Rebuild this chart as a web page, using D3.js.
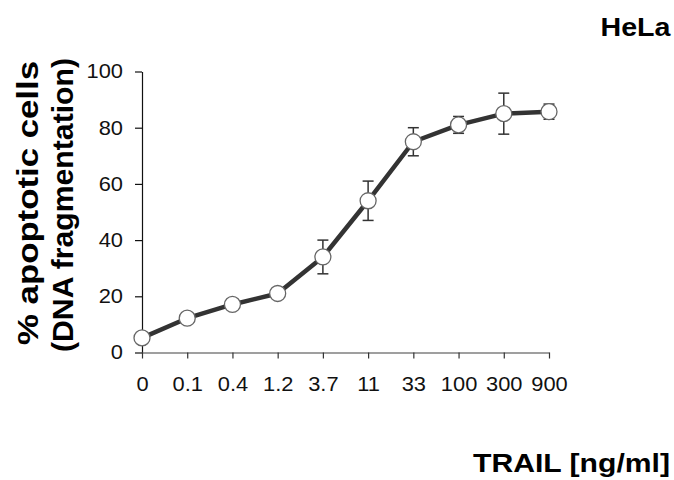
<!DOCTYPE html>
<html>
<head>
<meta charset="utf-8">
<script src="https://cdn.jsdelivr.net/npm/d3@7"></script>
<style>
  body { margin: 0; background: #fff; }
  svg { display: block; font-family: "Liberation Sans", Arial, sans-serif; }
</style>
</head>
<body>
<div id="chart"></div>
<script>
/////////////////////Datos///////////////////////////////////////////////////////
var doses = ["0", "0.1", "0.4", "1.2", "3.7", "11", "33", "100", "300", "900"];
var apoptosis = [5.2, 12.2, 17.1, 21, 34, 54, 75, 81, 85, 85.7];
var errors = [1, 1, 1, 1.8, 6, 7, 5, 3, 7.3, 2.7];
var yTicks = [0, 20, 40, 60, 80, 100];

var data = doses.map(function(d, i) {
  return { dose: d, value: apoptosis[i], err: errors[i] };
});

/////////////////////Tamaño/////////////////////////////////////////////////////
var width = 674,
    height = 480;

var svg = d3.select("#chart")
  .append("svg")
    .attr("width", width)
    .attr("height", height);

var x = d3.scalePoint()
  .domain(doses)
  .range([142, 549]);

var y = d3.scaleLinear()
  .domain([0, 100])
  .range([352.5, 71.5]);

// estira el texto a lo ancho como en la imagen
function stretch(sel, k) {
  sel.each(function() {
    var len = this.getComputedTextLength();
    d3.select(this)
      .attr("textLength", len * k)
      .attr("lengthAdjust", "spacingAndGlyphs");
  });
}

/////////////////////Ejes///////////////////////////////////////////////////////
var yAxis = svg.append("g")
  .attr("transform", "translate(142,0)")
  .call(d3.axisLeft(y).tickValues(yTicks).tickSize(7).tickSizeOuter(0).tickPadding(12));
yAxis.select(".domain").attr("stroke", "#111").attr("stroke-width", 1.2);
yAxis.selectAll(".tick line").attr("stroke", "#111").attr("stroke-width", 1.2);
yAxis.selectAll(".tick text")
  .attr("fill", "#111")
  .attr("font-size", "21px")
  .attr("dy", "0.3em")
  .call(stretch, 1.04);

var xAxis = svg.append("g")
  .attr("transform", "translate(0,352.5)")
  .call(d3.axisBottom(x).tickSize(6).tickSizeOuter(0).tickPadding(18));
xAxis.select(".domain").attr("stroke", "#7f7f7f").attr("stroke-width", 1.5);
xAxis.selectAll(".tick line").attr("stroke", "#333").attr("stroke-width", 1.2);
xAxis.selectAll(".tick text")
  .attr("fill", "#111")
  .attr("font-size", "21px")
  .call(stretch, 1.04);

/////////////////////Barras de error///////////////////////////////////////////
var bars = svg.append("g")
  .attr("stroke", "#333")
  .attr("stroke-width", 1.5)
  .selectAll("g")
  .data(data)
  .enter()
    .append("g");

bars.append("line")
  .attr("x1", function(d) { return x(d.dose); })
  .attr("x2", function(d) { return x(d.dose); })
  .attr("y1", function(d) { return y(d.value + d.err); })
  .attr("y2", function(d) { return y(d.value - d.err); });

bars.append("line")
  .attr("x1", function(d) { return x(d.dose) - 5.5; })
  .attr("x2", function(d) { return x(d.dose) + 5.5; })
  .attr("y1", function(d) { return y(d.value + d.err); })
  .attr("y2", function(d) { return y(d.value + d.err); });

bars.append("line")
  .attr("x1", function(d) { return x(d.dose) - 5.5; })
  .attr("x2", function(d) { return x(d.dose) + 5.5; })
  .attr("y1", function(d) { return y(d.value - d.err); })
  .attr("y2", function(d) { return y(d.value - d.err); });

/////////////////////Linea y puntos//////////////////////////////////////////
var line = d3.line()
  .x(function(d) { return x(d.dose); })
  .y(function(d) { return y(d.value); });

svg.append("path")
  .datum(data)
  .attr("d", line)
  .attr("fill", "none")
  .attr("stroke", "#333")
  .attr("stroke-width", 4.5)
  .attr("stroke-linejoin", "round");

svg.selectAll("circle.pt")
  .data(data)
  .enter()
    .append("circle")
    .attr("class", "pt")
    .attr("cx", function(d) { return x(d.dose); })
    .attr("cy", function(d) { return y(d.value); })
    .attr("r", 8)
    .attr("fill", "#fff")
    .attr("stroke", "#666")
    .attr("stroke-width", 1.3);

/////////////////////Textos////////////////////////////////////////////////////
svg.append("text")
  .attr("x", 600.5)
  .attr("y", 36)
  .attr("font-size", "25px")
  .attr("font-weight", "bold")
  .attr("fill", "#000")
  .attr("textLength", 70)
  .attr("lengthAdjust", "spacingAndGlyphs")
  .text("HeLa");

svg.append("text")
  .attr("x", 473)
  .attr("y", 472)
  .attr("font-size", "26px")
  .attr("font-weight", "bold")
  .attr("fill", "#000")
  .attr("textLength", 197)
  .attr("lengthAdjust", "spacingAndGlyphs")
  .text("TRAIL [ng/ml]");

var yLabel = svg.append("g")
  .attr("font-weight", "bold")
  .attr("font-size", "30px")
  .attr("fill", "#000")
  .attr("text-anchor", "middle");

yLabel.append("text")
  .attr("transform", "translate(38,203) rotate(-90)")
  .attr("textLength", 284)
  .attr("lengthAdjust", "spacingAndGlyphs")
  .text("% apoptotic cells");

yLabel.append("text")
  .attr("transform", "translate(73,205) rotate(-90)")
  .attr("textLength", 294)
  .attr("lengthAdjust", "spacingAndGlyphs")
  .text("(DNA fragmentation)");
</script>
</body>
</html>
